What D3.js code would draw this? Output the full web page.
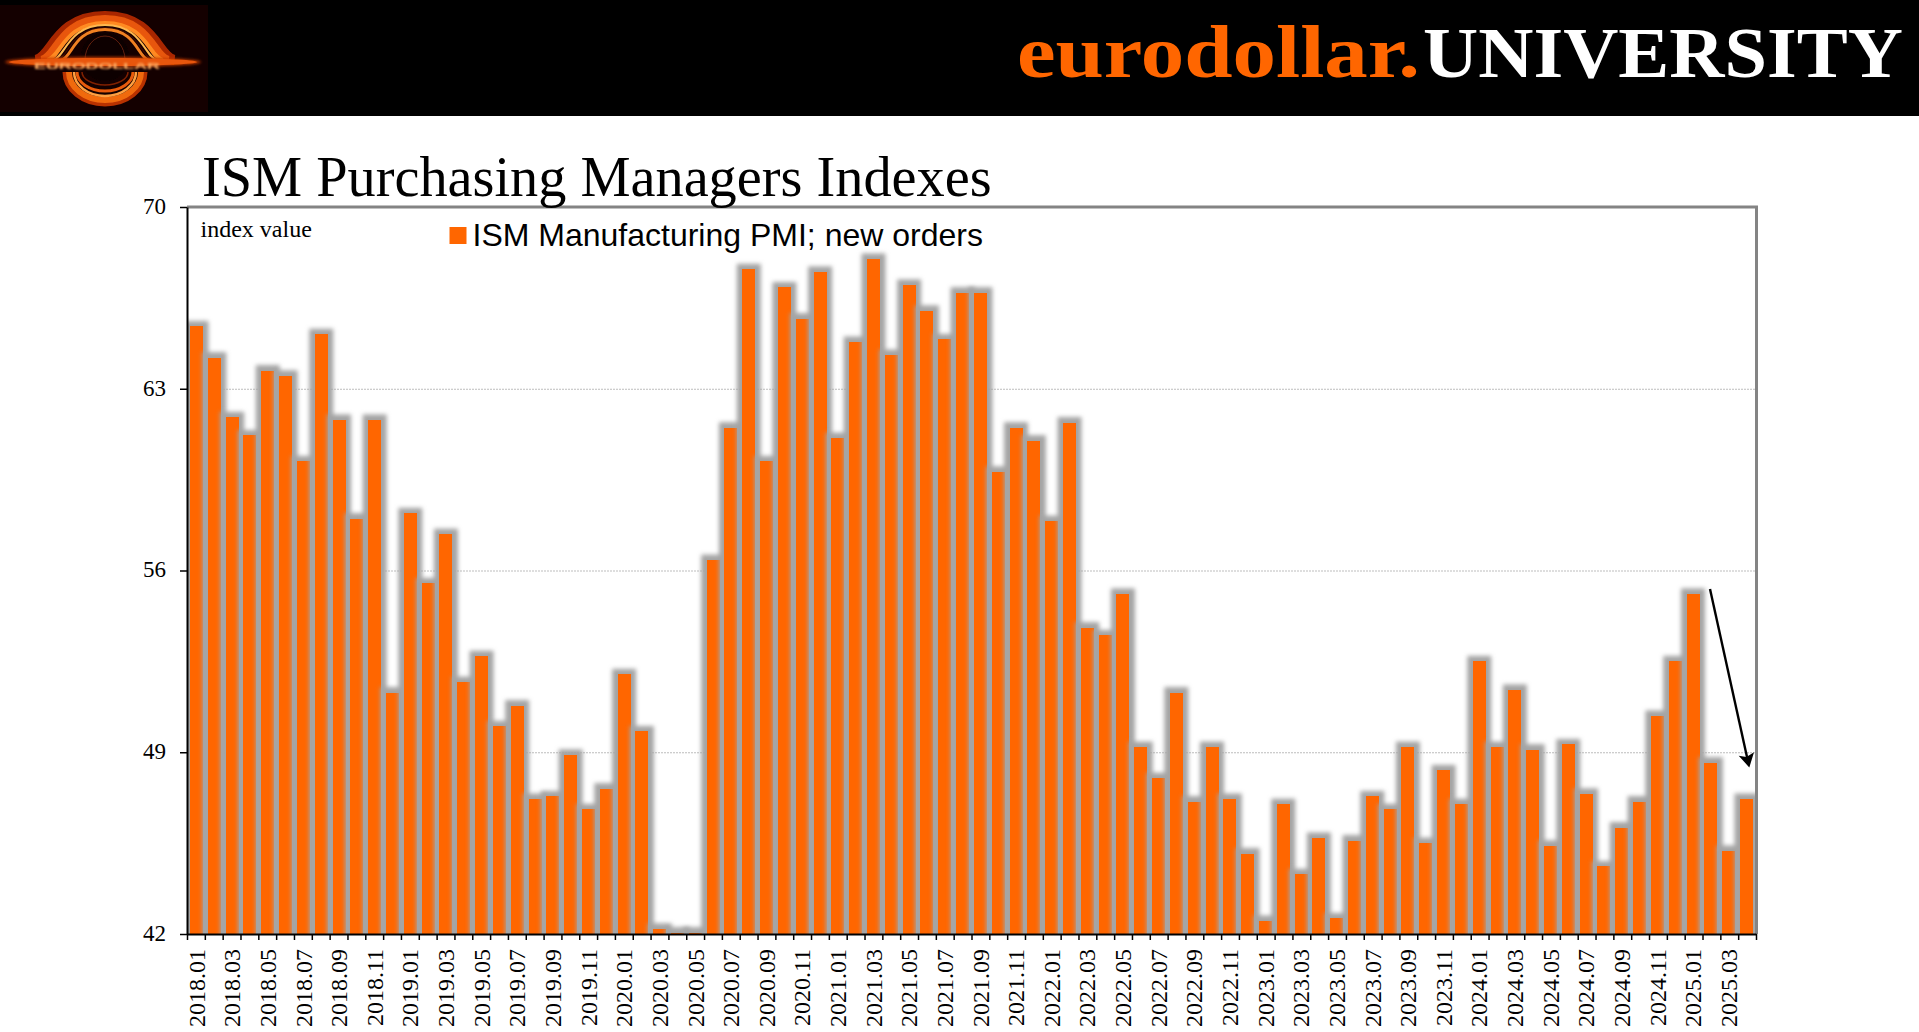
<!DOCTYPE html>
<html>
<head>
<meta charset="utf-8">
<title>ISM Purchasing Managers Indexes</title>
<script src="https://d3js.org/d3.v7.min.js"></script>
<style>
  html, body { margin: 0; padding: 0; background: #fff; overflow: hidden; }
  svg { display: block; }
  text { font-family: "Liberation Serif", serif; fill: #000; }
</style>
</head>
<body>
<div id="chart"></div>
<script>
// Months on the x axis
const months = [
  "2018.01","2018.02","2018.03","2018.04","2018.05","2018.06","2018.07","2018.08","2018.09","2018.10","2018.11","2018.12",
  "2019.01","2019.02","2019.03","2019.04","2019.05","2019.06","2019.07","2019.08","2019.09","2019.10","2019.11","2019.12",
  "2020.01","2020.02","2020.03","2020.04","2020.05","2020.06","2020.07","2020.08","2020.09","2020.10","2020.11","2020.12",
  "2021.01","2021.02","2021.03","2021.04","2021.05","2021.06","2021.07","2021.08","2021.09","2021.10","2021.11","2021.12",
  "2022.01","2022.02","2022.03","2022.04","2022.05","2022.06","2022.07","2022.08","2022.09","2022.10","2022.11","2022.12",
  "2023.01","2023.02","2023.03","2023.04","2023.05","2023.06","2023.07","2023.08","2023.09","2023.10","2023.11","2023.12",
  "2024.01","2024.02","2024.03","2024.04","2024.05","2024.06","2024.07","2024.08","2024.09","2024.10","2024.11","2024.12",
  "2025.01","2025.02","2025.03","2025.04"
];

// ISM Manufacturing PMI; new orders
const newOrders = [
  65.4, 64.2, 61.9, 61.2, 63.7, 63.5, 60.2, 65.1, 61.8, 58.0, 61.8, 51.3,
  58.2, 55.5, 57.4, 51.7, 52.7, 50.0, 50.8, 47.2, 47.3, 48.9, 46.8, 47.6,
  52.0, 49.8, 42.2, 42.05, 42.05, 56.4, 61.5, 67.6, 60.2, 66.9, 65.7, 67.5,
  61.1, 64.8, 68.0, 64.3, 67.0, 66.0, 64.9, 66.7, 66.7, 59.8, 61.5, 61.0,
  57.9, 61.7, 53.8, 53.5, 55.1, 49.2, 48.0, 51.3, 47.1, 49.2, 47.2, 45.1,
  42.5, 47.0, 44.3, 45.7, 42.6, 45.6, 47.3, 46.8, 49.2, 45.5, 48.3, 47.0,
  52.5, 49.2, 51.4, 49.1, 45.4, 49.3, 47.4, 44.6, 46.1, 47.1, 50.4, 52.5,
  55.1, 48.6, 45.2, 47.2
];

const yTicks = [42, 49, 56, 63, 70];
const gridTicks = [49, 56, 63];

const ORANGE = "#ff6600";
const width = 1919, height = 1032;
const margin = { top: 207, right: 163, bottom: 98, left: 187 };
const chartRight = width - margin.right;
const chartBottom = height - margin.bottom;

const svg = d3.select("#chart").append("svg")
  .attr("width", width)
  .attr("height", height)
  .attr("viewBox", `0 0 ${width} ${height}`);

const defs = svg.append("defs");

// Soft edge for the grey glow round each bar
defs.append("filter")
  .attr("id", "barGlow")
  .attr("filterUnits", "userSpaceOnUse")
  .attr("x", 0).attr("y", 0).attr("width", width).attr("height", height)
  .append("feGaussianBlur").attr("stdDeviation", 2);

defs.append("clipPath").attr("id", "plotClip").append("rect")
  .attr("x", margin.left).attr("y", margin.top)
  .attr("width", chartRight - margin.left).attr("height", chartBottom - margin.top);

defs.append("filter").attr("id", "logoBlur").append("feGaussianBlur").attr("stdDeviation", 0.7);
defs.append("filter").attr("id", "logoTextBlur").append("feGaussianBlur").attr("stdDeviation", 0.8);
defs.append("filter").attr("id", "logoGlow")
  .attr("x", "-20%").attr("y", "-60%").attr("width", "140%").attr("height", "220%")
  .append("feGaussianBlur").attr("stdDeviation", 1.8);

// Header band
svg.append("rect").attr("width", width).attr("height", 116).attr("fill", "#000");
drawLogo(svg.append("g"));

svg.append("text")
  .attr("x", 1017).attr("y", 77)
  .attr("textLength", 403).attr("lengthAdjust", "spacingAndGlyphs")
  .style("font-size", "74px").style("font-weight", "bold").style("fill", ORANGE)
  .text("eurodollar.");
svg.append("text")
  .attr("x", 1423).attr("y", 77)
  .attr("textLength", 480).attr("lengthAdjust", "spacingAndGlyphs")
  .style("font-size", "71px").style("font-weight", "bold").style("fill", "#fff")
  .text("UNIVERSITY");

// Scales
const x = d3.scaleBand()
  .domain(months)
  .range([margin.left, chartRight])
  .paddingInner(0.27)
  .paddingOuter(0.17);

const xEdges = d3.scaleLinear()
  .domain([0, months.length])
  .range([margin.left, chartRight]);

const y = d3.scaleLinear()
  .domain([42, 70])
  .range([chartBottom, margin.top]);

// Gridlines
const grid = svg.append("g")
  .attr("transform", `translate(${margin.left},0)`)
  .call(d3.axisLeft(y).tickValues(gridTicks).tickSize(-(chartRight - margin.left)).tickFormat(""));
grid.select(".domain").remove();
grid.selectAll("line").attr("stroke", "#bdbdbd").attr("stroke-dasharray", "2 1");

// Bars, each with its own glow so later ones lie over earlier ones
const glowSize = 5.5;
const barGroups = svg.append("g")
  .attr("clip-path", "url(#plotClip)")
  .selectAll("g")
  .data(newOrders)
  .join("g");

barGroups.append("rect")
  .attr("x", (d, i) => x(months[i]) - glowSize)
  .attr("y", d => y(d) - glowSize)
  .attr("width", x.bandwidth() + 2 * glowSize)
  .attr("height", d => chartBottom - y(d) + 2 * glowSize)
  .attr("fill", "#a4a4a4")
  .attr("filter", "url(#barGlow)");

barGroups.append("rect")
  .attr("x", (d, i) => x(months[i]))
  .attr("y", d => y(d))
  .attr("width", x.bandwidth())
  .attr("height", d => chartBottom - y(d))
  .attr("fill", ORANGE)
  .attr("shape-rendering", "crispEdges");

// Frame, top and right only
svg.append("path")
  .attr("d", `M${margin.left},${margin.top}H${chartRight + 0.5}V${chartBottom}`)
  .attr("fill", "none")
  .attr("stroke", "#848484")
  .attr("stroke-width", 3);

// Y axis
const yAxis = svg.append("g")
  .attr("transform", `translate(${margin.left},0)`)
  .call(d3.axisLeft(y).tickValues(yTicks).tickSize(7).tickSizeOuter(0).tickPadding(14));
yAxis.select(".domain").attr("stroke", "#000").attr("stroke-width", 2);
yAxis.selectAll("line").attr("stroke", "#000").attr("stroke-width", 1.5);
yAxis.selectAll("text")
  .attr("dy", "0.28em")
  .style("font-size", "23px")
  .style("font-family", '"Liberation Serif", serif');

// X axis: a tick at every month edge
const xTickMarks = svg.append("g")
  .attr("transform", `translate(0,${chartBottom})`)
  .call(d3.axisBottom(xEdges).tickValues(d3.range(months.length + 1)).tickSize(6).tickSizeOuter(0).tickFormat(""));
xTickMarks.select(".domain").attr("stroke", "#000").attr("stroke-width", 2);
xTickMarks.selectAll("line").attr("stroke", "#000").attr("stroke-width", 1.5);

// Labels on every second month, turned upright
const xLabels = svg.append("g")
  .attr("transform", `translate(0,${chartBottom})`)
  .call(d3.axisBottom(x).tickValues(months.filter((d, i) => i % 2 === 0)).tickSize(0));
xLabels.select(".domain").remove();
xLabels.selectAll("text")
  .attr("transform", "rotate(-90)")
  .attr("x", -15)
  .attr("y", 0)
  .attr("dy", "0.34em")
  .attr("text-anchor", "end")
  .style("font-size", "24px")
  .style("font-family", '"Liberation Serif", serif');

// Title, unit and legend
svg.append("text")
  .attr("x", 202).attr("y", 196)
  .style("font-size", "56.3px")
  .text("ISM Purchasing Managers Indexes");

svg.append("text")
  .attr("x", 200.5).attr("y", 237)
  .style("font-size", "24px")
  .text("index value");

svg.append("rect")
  .attr("x", 449.5).attr("y", 227)
  .attr("width", 17).attr("height", 17)
  .attr("fill", ORANGE);
svg.append("text")
  .attr("x", 472.5).attr("y", 246)
  .style("font-family", '"Liberation Sans", sans-serif')
  .style("font-size", "32px")
  .text("ISM Manufacturing PMI; new orders");

// Arrow from the January peak down to the latest reading
svg.append("line")
  .attr("x1", 1710).attr("y1", 589)
  .attr("x2", 1747).attr("y2", 757)
  .attr("stroke", "#000").attr("stroke-width", 2.4);
svg.append("path")
  .attr("d", "M1749.3,767.5L1738.7,755.7L1746.4,757L1754,752.3Z")
  .attr("fill", "#000");

// Black hole logo, top left of the header
function drawLogo(g) {
  const cx = 105;
  const bell = (r, t) => `M${cx - 1.45 * r},60C${cx - 1.1 * r},58 ${cx - 1.05 * r},${t} ${cx},${t}` +
    `C${cx + 1.05 * r},${t} ${cx + 1.1 * r},58 ${cx + 1.45 * r},60`;
  const under = (r, b) => `M${cx - r},72A${r},${b - 72} 0 0 0 ${cx + r},72`;

  g.append("rect").attr("x", 0).attr("y", 5).attr("width", 208).attr("height", 107).attr("fill", "#140000");

  const soft = g.append("g").attr("filter", "url(#logoBlur)").attr("fill", "none");
  const upperRings = [
    [48, 16, 10, "#a82800"], [44, 19, 8, "#e8560a"], [40, 23, 4, "#ff8a20"],
    [36, 25, 2, "#ffb850"], [33, 27.5, 1.2, "#3a0800"], [30, 29.5, 3, "#f08020"]
  ];
  upperRings.forEach(([r, t, w, c]) => {
    soft.append("path").attr("d", bell(r, t)).attr("stroke", c).attr("stroke-width", w);
  });
  soft.append("circle").attr("cx", cx).attr("cy", 57).attr("r", 24).attr("fill", "#0c0000");
  soft.append("path")
    .attr("d", `M${cx - 20},60A20,24 0 0 1 ${cx + 20},60`)
    .attr("stroke", "#7a2a10").attr("stroke-width", 0.8);

  const lowerRings = [
    [40, 104, 5, "#b83000"], [36, 100, 6, "#f06a10"], [31, 96, 2.5, "#ffa040"],
    [28, 91, 3, "#e85a08"], [23, 85, 1.5, "#802000"]
  ];
  lowerRings.forEach(([r, b, w, c]) => {
    soft.append("path").attr("d", under(r, b)).attr("stroke", c).attr("stroke-width", w);
  });

  g.append("ellipse").attr("cx", 103).attr("cy", 62).attr("rx", 98).attr("ry", 5)
    .attr("fill", "#c83a00").attr("filter", "url(#logoGlow)");
  g.append("ellipse").attr("cx", 103).attr("cy", 62).attr("rx", 94).attr("ry", 4)
    .attr("fill", "#e8560a").attr("filter", "url(#logoBlur)");
  g.append("text")
    .attr("x", 34).attr("y", 69)
    .attr("textLength", 126).attr("lengthAdjust", "spacingAndGlyphs")
    .attr("filter", "url(#logoTextBlur)")
    .style("font-family", '"Liberation Sans", sans-serif')
    .style("font-size", "9px")
    .style("font-weight", "bold")
    .style("fill", "#ffb068")
    .text("EURODOLLAR");
}
</script>
</body>
</html>
